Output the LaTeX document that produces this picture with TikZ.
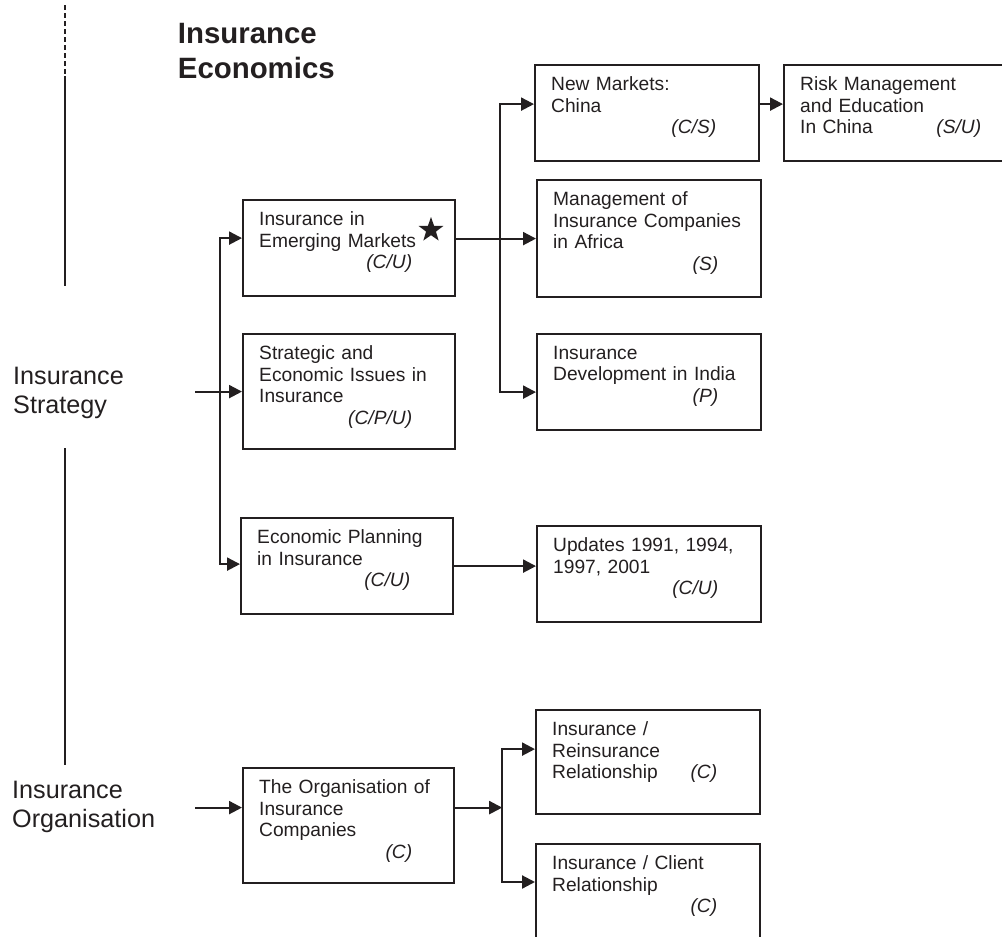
\documentclass[tikz,border=0pt]{standalone}
\usepackage{fontspec}
\setmainfont{Liberation Sans}
\usetikzlibrary{arrows.meta,positioning,shapes.geometric}

\definecolor{ink}{HTML}{231F20}

\tikzset{
  panel/.style={draw=ink, line width=2.2pt, anchor=north west, inner sep=0pt},
  panel text/.style={anchor=north west, inner xsep=17pt, inner ysep=12.8pt,
    text width=185pt, align=left, text=ink,
    font=\fontsize{19.2}{21.5}\selectfont},
  side text/.style={anchor=north west, inner sep=0pt, align=left, text=ink,
    font=\fontsize{25.2}{29}\selectfont},
  flow/.style={draw=ink, line width=2.2pt, -{Triangle[length=13pt, width=13pt]}},
  axis/.style={draw=ink, line width=1.6pt}
}
\newcommand{\code}[1]{\mbox{}\hfill\textit{#1}\hspace*{32pt}}

\begin{document}
\begin{tikzpicture}[x=1pt, y=1pt]
  \useasboundingbox (0,0) rectangle (1002,-937);

  % headings on the left
  \node[side text, font=\bfseries\fontsize{29.4}{35}\selectfont] (title) at (177.7,-23) {Insurance\\Economics};
  \node[side text] (strategy) at (13,-367) {Insurance\\Strategy};
  \node[side text] (organisation) at (12,-781) {Insurance\\Organisation};

  \coordinate (axis-top) at (65,-5);
  \coordinate (axis-a) at (65,-76);
  \coordinate (axis-b) at (65,-286);
  \coordinate (axis-c) at (65,-448);
  \coordinate (axis-d) at (65,-765);
  \draw[axis, dash pattern=on 5pt off 3pt] (axis-top) -- (axis-a);
  \draw[axis] (axis-a) -- (axis-b);
  \draw[axis] (axis-c) -- (axis-d);

  % first column
  \node[panel, minimum width=212pt, minimum height=96pt,
    label={[panel text]north west:{Insurance in\\Emerging Markets\\\code{(C/U)}}}]
    (emerging) at (242,-199) {};
  \node[star, star points=5, star point ratio=2.5, fill=ink, minimum size=26pt, inner sep=0pt]
    (emerging-star) at (431,-230) {};
  \node[panel, minimum width=212pt, minimum height=115pt,
    label={[panel text]north west:{Strategic and\\Economic Issues in\\Insurance\\\code{(C/P/U)}}}]
    (strategic) at (242,-333) {};
  \node[panel, minimum width=212pt, minimum height=96pt,
    label={[panel text]north west:{Economic Planning\\in Insurance\\\code{(C/U)}}}]
    (planning) at (240,-517) {};
  \node[panel, minimum width=211pt, minimum height=115pt,
    label={[panel text]north west:{The Organisation of\\Insurance\\Companies\\\code{(C)}}}]
    (companies) at (242,-767) {};

  % second column
  \node[panel, minimum width=224pt, minimum height=96pt,
    label={[panel text, text width=197pt]north west:{New Markets:\\China\\\code{(C/S)}}}]
    (china) at (534,-64) {};
  \node[panel, minimum width=240pt, minimum height=96pt,
    label={[panel text, text width=213pt]north west:{Risk Management\\and Education\\In China\code{(S/U)}}}]
    (risk) at (783,-64) {};
  \node[panel, minimum width=224pt, minimum height=117pt,
    label={[panel text, text width=197pt]north west:{Management of\\Insurance Companies\\in Africa\\\code{(S)}}}]
    (africa) at (536,-179) {};
  \node[panel, minimum width=224pt, minimum height=96pt,
    label={[panel text, text width=197pt]north west:{Insurance\\Development in India\\\code{(P)}}}]
    (india) at (536,-333) {};
  \node[panel, minimum width=224pt, minimum height=96pt,
    label={[panel text, text width=197pt]north west:{Updates 1991, 1994,\\1997, 2001\\\code{(C/U)}}}]
    (updates) at (536,-525) {};
  \node[panel, minimum width=224pt, minimum height=104pt,
    label={[panel text, text width=197pt]north west:{Insurance /\\Reinsurance\\Relationship\code{(C)}}}]
    (reinsurance) at (535,-709) {};
  \node[panel, minimum width=224pt, minimum height=120pt,
    label={[panel text, text width=197pt]north west:{Insurance / Client\\Relationship\\\code{(C)}}}]
    (client) at (535,-843) {};

  % strategy connectors
  \draw[flow] ([xshift=-47pt]strategic.west) -- (strategic.west);
  \foreach \t/\s in {emerging/10, planning/2}
    \draw[flow] (strategic.west) ++(-22,0) |- ([yshift=\s pt]\t.west);
  \draw[flow] (emerging.east |- africa.west) -- (africa.west);
  \foreach \t/\s in {china/9, india/-10}
    \draw[flow] (africa.west) ++(-36,0) |- ([yshift=\s pt]\t.west);
  \draw[flow] ([yshift=9pt]china.east) -- ([yshift=9pt]risk.west);
  \draw[flow] (planning.east) -- ([yshift=8pt]updates.west);

  % organisation connectors
  \draw[flow] ([xshift=-47pt, yshift=18pt]companies.west) -- ([yshift=18pt]companies.west);
  \draw[flow] ([yshift=18pt]companies.east) -- ++(47,0) coordinate (fork);
  \draw[flow] (fork) |- ([yshift=13pt]reinsurance.west);
  \draw[flow] (fork) |- ([yshift=-39pt]client.north west);
\end{tikzpicture}
\end{document}
